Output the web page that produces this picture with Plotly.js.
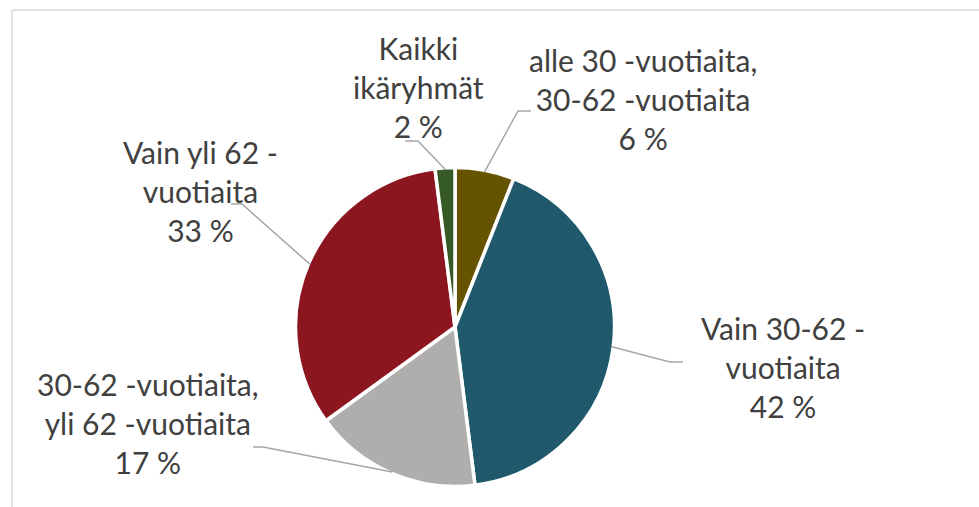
<!DOCTYPE html>
<html>
<head>
<meta charset="utf-8">
<script src="https://cdn.plot.ly/plotly-3.0.1.min.js"></script>
<style>html,body{margin:0;padding:0;background:#fff;}#chart{width:979px;height:507px;}text{font-variant-ligatures:none;}</style>
</head>
<body>
<div id="chart"></div>
<script>
// ---- data ----
const categories = ["alle 30 -vuotiaita, 30-62 -vuotiaita", "Vain 30-62 - vuotiaita", "30-62 -vuotiaita, yli 62 -vuotiaita", "Vain yli 62 - vuotiaita", "Kaikki ikäryhmät"];
const labelLines = ["alle 30 -vuotiaita,<br>30-62 -vuotiaita", "Vain 30-62 -<br>vuotiaita", "30-62 -vuotiaita,<br>yli 62 -vuotiaita", "Vain yli 62 -<br>vuotiaita", "Kaikki<br>ikäryhmät"];
const values = [6, 42, 17, 33, 2];

// ---- styling / layout config ----
const colors = ["#665300", "#1F596B", "#B0ADAD", "#8C1620", "#365A25"];
const W = 979, H = 507;
const cx = 455, cy = 327, R = 158;
// label block centers and leader elbows (pixels)
const labelPos = [[643, 99], [783, 367], [148, 423], [200, 191], [418, 87]];
const elbows = [[[518, 111], [531, 111]], [[670, 362], [683, 362]], [[263, 447], [253, 447]], [[242, 204], [231, 204]], [[418, 141], [405, 141]]];
const FONT = "Lato, 'Open Sans', sans-serif";
const TXT = "#404040";

const px = x => x / W;
const py = y => 1 - y / H;

const total = values.reduce((a, b) => a + b, 0);
let cum = 0;
const shapes = [];
const annotations = [];
values.forEach((v, i) => {
  const mid = (cum + v / 2) / total * 2 * Math.PI;
  cum += v;
  const sx = cx + R * Math.sin(mid), sy = cy - R * Math.cos(mid);
  const [e1, e2] = elbows[i];
  shapes.push({
    type: "path", xref: "paper", yref: "paper",
    path: `M ${px(sx)} ${py(sy)} L ${px(e1[0])} ${py(e1[1])} L ${px(e2[0])} ${py(e2[1])}`,
    line: { color: "#A6A6A6", width: 1.5 }
  });
  annotations.push({
    xref: "paper", yref: "paper",
    x: px(labelPos[i][0]), y: py(labelPos[i][1]),
    xanchor: "center", yanchor: "middle", align: "center",
    showarrow: false,
    text: labelLines[i] + "<br>" + v + " %",
    font: { family: FONT, size: 30, color: TXT }
  });
});

// frame
shapes.push({ type: "line", xref: "paper", yref: "paper", x0: px(12), y0: py(10), x1: 1, y1: py(10), line: { color: "#D9D9D9", width: 1.5 } });
shapes.push({ type: "line", xref: "paper", yref: "paper", x0: px(12), y0: py(10), x1: px(12), y1: 0, line: { color: "#D9D9D9", width: 1.5 } });

const trace = {
  type: "pie",
  labels: categories,
  values: values,
  sort: false,
  direction: "clockwise",
  rotation: 0,
  textinfo: "none",
  hoverinfo: "skip",
  marker: { colors: colors, line: { color: "#FFFFFF", width: 3.5 } },
  domain: { x: [px(cx - R - 1.5), px(cx + R + 1.5)], y: [py(cy + R + 1.5), py(cy - R - 1.5)] },
  showlegend: false
};

const layout = {
  width: W, height: H,
  margin: { l: 0, r: 0, t: 0, b: 0 },
  paper_bgcolor: "#FFFFFF",
  plot_bgcolor: "#FFFFFF",
  showlegend: false,
  shapes: shapes,
  annotations: annotations,
  font: { family: FONT, color: TXT }
};

Plotly.newPlot("chart", [trace], layout, { staticPlot: true, displayModeBar: false });
</script>
</body>
</html>
